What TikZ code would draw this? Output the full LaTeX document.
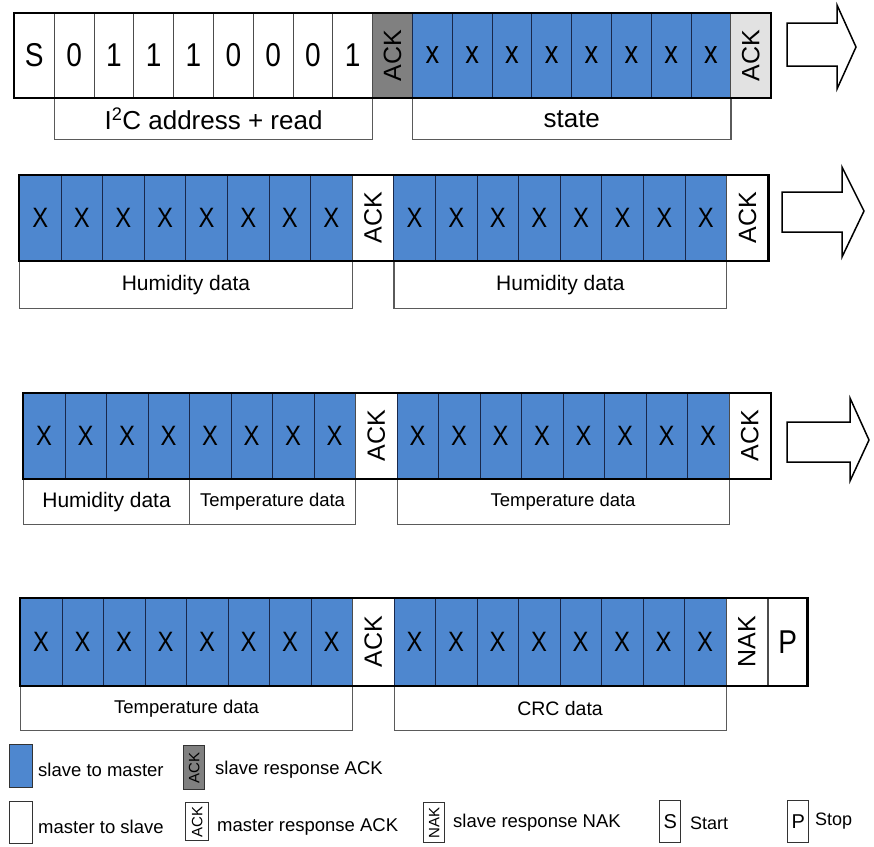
\documentclass[tikz,border=0pt]{standalone}
\usepackage{fontspec}
\setmainfont{Liberation Sans}
\newfontfamily\narrowfont[FakeStretch=0.85]{Liberation Sans}
\newcommand\setfs[1]{\fontsize{#1}{#1}\selectfont}
\definecolor{bitblue}{RGB}{78,135,207}
\definecolor{ackgray}{RGB}{128,128,128}
\definecolor{acklight}{RGB}{226,226,226}
\definecolor{bluesep}{RGB}{25,40,75}
\definecolor{labline}{RGB}{90,90,90}
\begin{document}
\begin{tikzpicture}[x=1pt,y=-1pt,
  cellbox/.style={draw=black!70, line width=0.8pt, inner sep=0pt, anchor=north west},
  wbit/.style={cellbox, fill=white, font=\narrowfont\setfs{33}},
  bbit/.style={cellbox, draw=bluesep, fill=bitblue, font=\narrowfont\setfs{28}},
  ackc/.style={cellbox, font=\setfs{25}},
  outerline/.style={draw=black, line width=2.4pt},
  labbox/.style={draw=labline, line width=1.1pt, inner sep=0pt, anchor=north west},
  bigarrow/.style={draw=black, line width=1.5pt, fill=white, line join=miter},
  legbox/.style={draw=black!80, line width=1.4pt, inner sep=0pt, anchor=north west},
  legtext/.style={anchor=west, inner sep=0pt, font=\setfs{18.5}}
]
\useasboundingbox (0,0) rectangle (874,846);

% ---------------- Row 1 ----------------
\def\cwa{39.8}
\foreach \t [count=\i from 0] in {S,0,1,1,1,0,0,0,1}
  \node[wbit, minimum width=\cwa pt, minimum height=84pt] (a\i) at ({14+\i*\cwa},13) {\t};
\node[ackc, fill=ackgray, minimum width=\cwa pt, minimum height=84pt] (a9) at ({14+9*\cwa},13) {\rotatebox{90}{ACK}};
\foreach \i in {10,...,17}
  \node[bbit, font=\narrowfont\setfs{32}, minimum width=\cwa pt, minimum height=84pt] (a\i) at ({14+\i*\cwa},13) {x};
\node[ackc, fill=acklight, minimum width=\cwa pt, minimum height=84pt] (a18) at ({14+18*\cwa},13) {\rotatebox{90}{ACK}};
\node[labbox, minimum width=318.4pt, minimum height=41pt, font=\setfs{26}] (la1) at (a1.south west) {I\textsuperscript{2}C address + read};
\node[labbox, minimum width=318.4pt, minimum height=41pt, font=\setfs{26}] (la2) at (a10.south west) {state};
\draw[outerline] (a0.north west) rectangle (a18.south east);
\draw[bigarrow] (787,23) -- (837,23) -- (837,5) -- (856,47) -- (837,89) -- (837,66) -- (787,66) -- cycle;

% ---------------- Row 2 ----------------
\def\cwb{41.6}
\foreach \i in {0,...,7}
  \node[bbit, minimum width=\cwb pt, minimum height=85pt] (b\i) at ({19+\i*\cwb},175) {X};
\node[ackc, fill=white, minimum width=\cwb pt, minimum height=85pt] (b8) at ({19+8*\cwb},175) {\rotatebox{90}{ACK}};
\foreach \i in {9,...,16}
  \node[bbit, minimum width=\cwb pt, minimum height=85pt] (b\i) at ({19+\i*\cwb},175) {X};
\node[ackc, fill=white, minimum width=\cwb pt, minimum height=85pt] (b17) at ({19+17*\cwb},175) {\rotatebox{90}{ACK}};
\node[labbox, minimum width=332.8pt, minimum height=47pt, font=\setfs{21}] (lb1) at (b0.south west) {Humidity data};
\node[labbox, minimum width=332.8pt, minimum height=47pt, font=\setfs{21}] (lb2) at (b9.south west) {Humidity data};
\draw[outerline] (b0.north west) rectangle (b17.south east);
\draw[bigarrow] (782,192) -- (842,192) -- (842,167) -- (864,211) -- (842,257) -- (842,232) -- (782,232) -- cycle;

% ---------------- Row 3 ----------------
\def\cwc{41.5}
\foreach \i in {0,...,7}
  \node[bbit, minimum width=\cwc pt, minimum height=85pt] (c\i) at ({23+\i*\cwc},393) {X};
\node[ackc, fill=white, minimum width=\cwc pt, minimum height=85pt] (c8) at ({23+8*\cwc},393) {\rotatebox{90}{ACK}};
\foreach \i in {9,...,16}
  \node[bbit, minimum width=\cwc pt, minimum height=85pt] (c\i) at ({23+\i*\cwc},393) {X};
\node[ackc, fill=white, minimum width=\cwc pt, minimum height=85pt] (c17) at ({23+17*\cwc},393) {\rotatebox{90}{ACK}};
\node[labbox, minimum width=166pt, minimum height=45pt, font=\setfs{21}] (lc1) at (c0.south west) {Humidity data};
\node[labbox, minimum width=166pt, minimum height=45pt, font=\setfs{18.5}] (lc2) at (c4.south west) {Temperature data};
\node[labbox, minimum width=332pt, minimum height=45pt, font=\setfs{18.5}] (lc3) at (c9.south west) {Temperature data};
\draw[outerline] (c0.north west) rectangle (c17.south east);
\draw[bigarrow] (787,422) -- (850,422) -- (850,398) -- (869,440) -- (850,481) -- (850,462) -- (787,462) -- cycle;

% ---------------- Row 4 ----------------
\def\cwd{41.5}
\foreach \i in {0,...,7}
  \node[bbit, minimum width=\cwd pt, minimum height=87pt] (d\i) at ({20+\i*\cwd},598) {X};
\node[ackc, fill=white, minimum width=\cwd pt, minimum height=87pt] (d8) at ({20+8*\cwd},598) {\rotatebox{90}{ACK}};
\foreach \i in {9,...,16}
  \node[bbit, minimum width=\cwd pt, minimum height=87pt] (d\i) at ({20+\i*\cwd},598) {X};
\node[ackc, fill=white, minimum width=\cwd pt, minimum height=87pt] (d17) at ({20+17*\cwd},598) {\rotatebox{90}{NAK}};
\node[wbit, minimum width=39pt, minimum height=87pt] (d18) at (d17.north east) {P};
\node[labbox, minimum width=332pt, minimum height=44pt, font=\setfs{18.5}] (ld1) at (d0.south west) {Temperature data};
\node[labbox, minimum width=332pt, minimum height=44pt, font=\setfs{19.5}] (ld2) at (d9.south west) {CRC data};
\draw[outerline] (d0.north west) rectangle (d18.south east);

% ---------------- Legend ----------------
\node[legbox, fill=bitblue, minimum width=23pt, minimum height=43pt] (k1) at (9,744) {};
\node[legtext] (k1t) at (38,770) {slave to master};
\node[legbox, fill=ackgray, minimum width=21pt, minimum height=44pt, font=\setfs{15}] (k2) at (183,745) {\rotatebox{90}{ACK}};
\node[legtext] (k2t) at (215,770) {slave response ACK};
\node[legbox, fill=white, minimum width=23pt, minimum height=42pt] (k3) at (9,801) {};
\node[legtext] (k3t) at (38,827) {master to slave};
\node[legbox, fill=white, minimum width=23pt, minimum height=38pt, font=\setfs{15}] (k4) at (185,802) {\rotatebox{90}{ACK}};
\node[legtext] (k4t) at (217,827) {master response ACK};
\node[legbox, fill=white, minimum width=21pt, minimum height=40pt, font=\setfs{15}] (k5) at (423,802) {\rotatebox{90}{NAK}};
\node[legtext] (k5t) at (453,823) {slave response NAK};
\node[legbox, fill=white, minimum width=21pt, minimum height=42pt, font=\setfs{20}] (k6) at (659,800) {S};
\node[legtext, font=\setfs{18}] (k6t) at (690,823) {Start};
\node[legbox, fill=white, minimum width=21pt, minimum height=42pt, font=\setfs{20}] (k7) at (787,800) {P};
\node[legtext, font=\setfs{18}] (k7t) at (815,821) {Stop};
\end{tikzpicture}
\end{document}
